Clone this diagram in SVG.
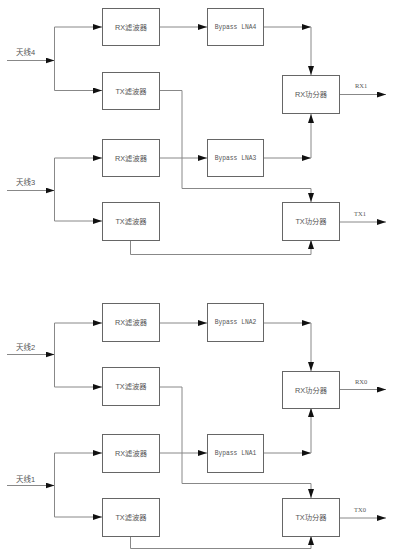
<svg xmlns="http://www.w3.org/2000/svg" width="394" height="556" viewBox="0 0 394 556">
<defs>
<style>
.box{fill:#fff;stroke:#666;stroke-width:1}
.ln{fill:none;stroke:#888;stroke-width:1}
.t{font-family:"Liberation Sans","Noto Sans CJK SC",sans-serif;font-size:7.3px;fill:#555;text-anchor:middle;dominant-baseline:central}
.m{font-family:"Liberation Mono","Noto Sans CJK SC",monospace;font-size:6.3px;fill:#555;text-anchor:middle;dominant-baseline:central}
.lab{font-family:"Liberation Sans","Noto Sans CJK SC",sans-serif;font-size:7.5px;fill:#555}
.ol{font-family:"Liberation Serif","Noto Sans CJK SC",serif;font-size:6.5px;fill:#555}
</style>
<marker id="ar" markerUnits="userSpaceOnUse" markerWidth="9" markerHeight="6" refX="9" refY="3" orient="auto">
<path d="M0,0 L9,3 L0,6 z" fill="#111"/>
</marker>
</defs>
<rect width="394" height="556" fill="#fff"/>
<g id="connectors">
<!-- antenna 4 -->
<path class="ln" d="M7,60.5 H54.5" marker-end="url(#ar)"/>
<path class="ln" d="M54.5,27 V90.5"/>
<path class="ln" d="M54.5,27 H102" marker-end="url(#ar)"/>
<path class="ln" d="M54.5,90.5 H102" marker-end="url(#ar)"/>
<path class="ln" d="M159,27 H207" marker-end="url(#ar)"/>
<path class="ln" d="M263,27 H311" marker-end="url(#ar)"/>
<path class="ln" d="M311,27 V75" marker-end="url(#ar)"/>
<path class="ln" d="M159,90.5 H182 V188.5 H311"/>
<path class="ln" d="M311,188.5 V202" marker-end="url(#ar)"/>
<!-- antenna 3 -->
<path class="ln" d="M7,190.5 H54.5" marker-end="url(#ar)"/>
<path class="ln" d="M54.5,158 V221"/>
<path class="ln" d="M54.5,158 H102" marker-end="url(#ar)"/>
<path class="ln" d="M54.5,221 H102" marker-end="url(#ar)"/>
<path class="ln" d="M159,158 H207" marker-end="url(#ar)"/>
<path class="ln" d="M263,158 H311" marker-end="url(#ar)"/>
<path class="ln" d="M311,158 V114" marker-end="url(#ar)"/>
<path class="ln" d="M130.5,240 V254.5 H311"/>
<path class="ln" d="M311,254.5 V240" marker-end="url(#ar)"/>
<path class="ln" d="M339,94.5 H386" marker-end="url(#ar)"/>
<path class="ln" d="M339,222 H386" marker-end="url(#ar)"/>
<!-- antenna 2 -->
<path class="ln" d="M7,354.5 H54.5" marker-end="url(#ar)"/>
<path class="ln" d="M54.5,323 V387"/>
<path class="ln" d="M54.5,323 H102" marker-end="url(#ar)"/>
<path class="ln" d="M54.5,387 H102" marker-end="url(#ar)"/>
<path class="ln" d="M159,323 H207" marker-end="url(#ar)"/>
<path class="ln" d="M263,323 H311" marker-end="url(#ar)"/>
<path class="ln" d="M311,323 V371" marker-end="url(#ar)"/>
<path class="ln" d="M159,387 H182 V483.5 H311"/>
<path class="ln" d="M311,483.5 V498" marker-end="url(#ar)"/>
<!-- antenna 1 -->
<path class="ln" d="M7,485.5 H54.5" marker-end="url(#ar)"/>
<path class="ln" d="M54.5,453 V517"/>
<path class="ln" d="M54.5,453 H102" marker-end="url(#ar)"/>
<path class="ln" d="M54.5,517 H102" marker-end="url(#ar)"/>
<path class="ln" d="M159,453 H207" marker-end="url(#ar)"/>
<path class="ln" d="M263,453 H311" marker-end="url(#ar)"/>
<path class="ln" d="M311,453 V408" marker-end="url(#ar)"/>
<path class="ln" d="M130.5,536 V548.5 H311"/>
<path class="ln" d="M311,548.5 V536" marker-end="url(#ar)"/>
<path class="ln" d="M339,389.5 H386" marker-end="url(#ar)"/>
<path class="ln" d="M339,518 H386" marker-end="url(#ar)"/>
</g>
<g id="ant4"><text class="lab" x="16" y="55">天线4</text></g>
<g id="ant3"><text class="lab" x="16" y="185">天线3</text></g>
<g id="ant2"><text class="lab" x="16" y="350">天线2</text></g>
<g id="ant1"><text class="lab" x="16" y="482">天线1</text></g>
<g id="rxf4"><rect class="box" x="102.5" y="8.5" width="57" height="37"/><text class="t" x="131" y="27">RX滤波器</text></g>
<g id="txf4"><rect class="box" x="102.5" y="72.5" width="57" height="37"/><text class="t" x="131" y="91">TX滤波器</text></g>
<g id="lna4"><rect class="box" x="207.5" y="8.5" width="56" height="37"/><text class="m" x="235.5" y="27">Bypass LNA4</text></g>
<g id="rxf3"><rect class="box" x="102.5" y="139.5" width="57" height="37"/><text class="t" x="131" y="158">RX滤波器</text></g>
<g id="txf3"><rect class="box" x="102.5" y="202.5" width="57" height="38"/><text class="t" x="131" y="221.5">TX滤波器</text></g>
<g id="lna3"><rect class="box" x="207.5" y="139.5" width="56" height="37"/><text class="m" x="235.5" y="158">Bypass LNA3</text></g>
<g id="rxc1"><rect class="box" x="282.5" y="75.5" width="57" height="38"/><text class="t" x="311" y="94.5">RX功分器</text><text class="ol" x="355" y="88">RX1</text></g>
<g id="txc1"><rect class="box" x="282.5" y="202.5" width="57" height="38"/><text class="t" x="311" y="221.5">TX功分器</text><text class="ol" x="354" y="216">TX1</text></g>
<g id="rxf2"><rect class="box" x="102.5" y="303.5" width="57" height="38"/><text class="t" x="131" y="322.5">RX滤波器</text></g>
<g id="txf2"><rect class="box" x="102.5" y="367.5" width="57" height="38"/><text class="t" x="131" y="386.5">TX滤波器</text></g>
<g id="lna2"><rect class="box" x="207.5" y="303.5" width="56" height="38"/><text class="m" x="235.5" y="322.5">Bypass LNA2</text></g>
<g id="rxf1"><rect class="box" x="102.5" y="434.5" width="57" height="38"/><text class="t" x="131" y="453.5">RX滤波器</text></g>
<g id="txf1"><rect class="box" x="102.5" y="498.5" width="57" height="38"/><text class="t" x="131" y="517.5">TX滤波器</text></g>
<g id="lna1"><rect class="box" x="207.5" y="434.5" width="56" height="38"/><text class="m" x="235.5" y="453.5">Bypass LNA1</text></g>
<g id="rxc0"><rect class="box" x="282.5" y="371.5" width="57" height="37"/><text class="t" x="311" y="390">RX功分器</text><text class="ol" x="355" y="384">RX0</text></g>
<g id="txc0"><rect class="box" x="282.5" y="498.5" width="57" height="38"/><text class="t" x="311" y="517.5">TX功分器</text><text class="ol" x="354" y="512">TX0</text></g>
</svg>
